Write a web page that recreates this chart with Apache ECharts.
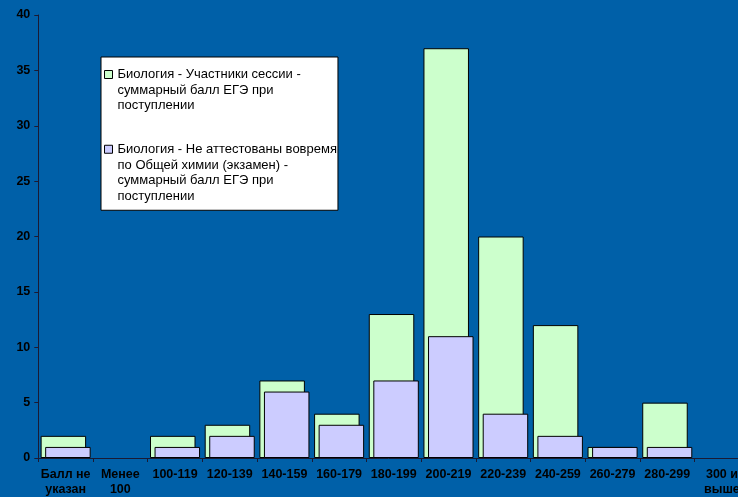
<!DOCTYPE html>
<html>
<head>
<meta charset="utf-8">
<script src="https://cdn.jsdelivr.net/npm/echarts@6/dist/echarts.min.js"></script>
<style>
html,body{margin:0;padding:0;background:#0060A8;}
#c{width:738px;height:497px;}
</style>
</head>
<body>
<div id="c"></div>
<script>
var categories = ["Балл не\nуказан", "Менее\n100", "100-119", "120-139", "140-159", "160-179", "180-199", "200-219", "220-239", "240-259", "260-279", "280-299", "300 и\nвыше"];
var participants = [2, 0, 2, 3, 7, 4, 13, 37, 20, 12, 1, 5, 0];
var notCertified = [1, 0, 1, 2, 6, 3, 7, 11, 4, 2, 1, 1, 0];
var seriesNames = [
  "Биология - Участники сессии -\nсуммарный балл ЕГЭ при\nпоступлении",
  "Биология - Не аттестованы вовремя\nпо Общей химии (экзамен) -\nсуммарный балл ЕГЭ при\nпоступлении"
];
var yTicks = {min: 0, max: 40, interval: 5};

function noEmpty(arr) { return arr.map(function (v) { return v === 0 ? '-' : v; }); }

var chart = echarts.init(document.getElementById('c'), null, {renderer: 'canvas'});
var font = '"Liberation Sans", Arial, sans-serif';
chart.setOption({
  backgroundColor: '#0060A8',
  animation: false,
  grid: {left: 38.3, top: 15, width: 711, bottom: 39, containLabel: false, outerBoundsMode: 'none'},
  legend: {
    left: 101, top: 57,
    orient: 'vertical',
    backgroundColor: '#ffffff',
    borderColor: '#000000',
    borderWidth: 1,
    padding: [1.5, 1, 6, 3],
    itemWidth: 8, itemHeight: 62, itemGap: 19.75,
    textStyle: {fontFamily: font, fontSize: 13, color: '#000', lineHeight: 15.5},
    data: [
      {name: seriesNames[0], icon: 'path://M0,0 M0,11.5 H8 V19.5 H0 Z M0,62', itemStyle: {color: '#CCFFCC', borderColor: '#000', borderWidth: 1}},
      {name: seriesNames[1], icon: 'path://M0,0 M0,3.5 H8 V11.5 H0 Z M0,62', itemStyle: {color: '#CCCCFF', borderColor: '#000', borderWidth: 1}}
    ]
  },
  xAxis: {
    type: 'category',
    data: categories,
    boundaryGap: true,
    axisLine: {lineStyle: {color: '#1a1a33', width: 1}},
    axisTick: {show: true, length: 4, interval: 0, lineStyle: {color: '#1a1a33'}},
    axisLabel: {interval: 0, fontFamily: font, fontSize: 12.5, fontWeight: 'bold', color: '#000', margin: 9, lineHeight: 15},
    splitLine: {show: false}
  },
  yAxis: {
    type: 'value',
    min: yTicks.min, max: yTicks.max, interval: yTicks.interval,
    axisLine: {show: true, lineStyle: {color: '#1a1a33', width: 1}},
    axisTick: {show: true, length: 4, lineStyle: {color: '#1a1a33'}},
    axisLabel: {fontFamily: font, fontSize: 12.5, fontWeight: 'bold', color: '#000', margin: 8},
    splitLine: {show: false}
  },
  series: [
    {name: seriesNames[0], type: 'bar', data: noEmpty(participants), barWidth: 45.5, barGap: '-90%',
     itemStyle: {color: '#CCFFCC', borderColor: '#000', borderWidth: 1}},
    {name: seriesNames[1], type: 'bar', data: noEmpty(notCertified), barWidth: 45.5, barGap: '-90%',
     itemStyle: {color: '#CCCCFF', borderColor: '#000', borderWidth: 1}}
  ]
});
</script>
</body>
</html>
